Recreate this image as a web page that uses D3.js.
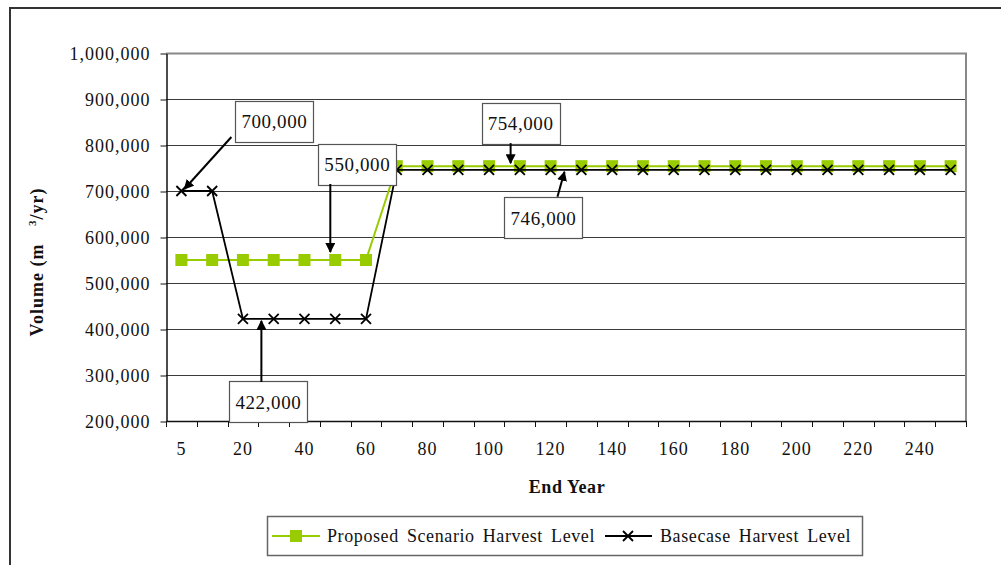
<!DOCTYPE html>
<html>
<head>
<meta charset="utf-8">
<script src="https://cdn.jsdelivr.net/npm/d3@7"></script>
<style>
  html, body { margin: 0; padding: 0; background: #fff; }
  svg { display: block; font-family: "Liberation Serif", "Times New Roman", serif; }
</style>
</head>
<body>
<svg id="chart" width="1001" height="565"></svg>
<script>
// End years on the category axis
const endYears = [5, 10, 20, 30, 40, 50, 60, 70, 80, 90, 100, 110, 120, 130, 140, 150,
                  160, 170, 180, 190, 200, 210, 220, 230, 240, 250];
// Harvest volumes (m3/yr) per end year
const proposedHarvest = [550000, 550000, 550000, 550000, 550000, 550000, 550000,
                         754000, 754000, 754000, 754000, 754000, 754000, 754000, 754000, 754000,
                         754000, 754000, 754000, 754000, 754000, 754000, 754000, 754000, 754000, 754000];
const basecaseHarvest = [700000, 700000, 422000, 422000, 422000, 422000, 422000,
                         746000, 746000, 746000, 746000, 746000, 746000, 746000, 746000, 746000,
                         746000, 746000, 746000, 746000, 746000, 746000, 746000, 746000, 746000, 746000];
// Y axis tick values
const yTicks = [200000, 300000, 400000, 500000, 600000, 700000, 800000, 900000, 1000000];
// Legend entries
const seriesNames = ["Proposed Scenario Harvest Level", "Basecase Harvest Level"];
// Callout labels: series value, category position (fractional index) and placement offsets
const callouts = [
  { label: "700,000", pos: 0,     value: 700000, tip: [3, -2],  start: [50, -54], box: [93, -70] },
  { label: "550,000", pos: 4.84,  value: 550000, tip: [0, -8],  start: [0, -76],  box: [27, -96] },
  { label: "422,000", pos: 2.6,   value: 422000, tip: [0, 2],   start: [0, 63],   box: [7, 83] },
  { label: "754,000", pos: 10.7,  value: 754000, tip: [0, -3],  start: [0, -23],  box: [10, -43] },
  { label: "746,000", pos: 12.45, value: 746000, tip: [0, 2],   start: [-7, 27],  box: [-21, 48] }
];

const svg = d3.select("#chart");
const plot = { left: 166, right: 966, top: 53, bottom: 421 };
const green = "#99CC00";

// Outer chart frame
svg.append("rect")
  .attr("x", 10).attr("y", 8).attr("width", 1010).attr("height", 600)
  .attr("fill", "none").attr("stroke", "#333").attr("stroke-width", 2);

const xBand = d3.scaleBand().domain(endYears).range([plot.left, plot.right]).padding(0);
const x = d3.scalePoint().domain(endYears).range([plot.left, plot.right]).padding(0.5);
const xPos = d3.scaleLinear().domain([0, endYears.length - 1])
  .range([x(endYears[0]), x(endYears[endYears.length - 1])]);
const y = d3.scaleLinear().domain([200000, 1000000]).range([plot.bottom, plot.top]);

// Horizontal gridlines
svg.append("g")
  .selectAll("line")
  .data(yTicks.filter(v => v > 200000 && v < 1000000))
  .join("line")
  .attr("x1", plot.left).attr("x2", plot.right)
  .attr("y1", d => Math.round(y(d)) + 0.5).attr("y2", d => Math.round(y(d)) + 0.5)
  .attr("stroke", "#3a3a3a").attr("stroke-width", 1);

// Plot area top and right edges
svg.append("path")
  .attr("d", `M${plot.left},${plot.top + 0.5}H${plot.right}V${plot.bottom}`)
  .attr("fill", "none").attr("stroke", "#888").attr("stroke-width", 2);

// Y axis
const yAxis = svg.append("g")
  .attr("transform", `translate(${plot.left + 0.5},0.5)`)
  .call(d3.axisLeft(y).tickValues(yTicks).tickFormat(d3.format(",")).tickSize(6).tickSizeOuter(0).tickPadding(10));
yAxis.select(".domain").attr("stroke", "#111").attr("stroke-width", 1.5);
yAxis.selectAll(".tick line").attr("stroke", "#111");
yAxis.selectAll("text")
  .attr("font-family", "Liberation Serif").attr("font-size", 18)
  .attr("letter-spacing", "1px").attr("fill", "#111");

// X axis: ticks on category boundaries, labels on every second category
const xAxis = svg.append("g");
xAxis.append("line")
  .attr("x1", plot.left).attr("x2", plot.right)
  .attr("y1", plot.bottom + 0.5).attr("y2", plot.bottom + 0.5)
  .attr("stroke", "#111").attr("stroke-width", 1.5);
const boundaries = endYears.map(d => xBand(d)).concat([plot.right]);
xAxis.selectAll("line.tick")
  .data(boundaries)
  .join("line")
  .attr("class", "tick")
  .attr("x1", d => Math.round(d) + 0.5).attr("x2", d => Math.round(d) + 0.5)
  .attr("y1", plot.bottom).attr("y2", plot.bottom + 6)
  .attr("stroke", "#111");
xAxis.selectAll("text")
  .data(endYears.filter((d, i) => i % 2 === 0))
  .join("text")
  .attr("x", d => x(d)).attr("y", 455)
  .attr("text-anchor", "middle")
  .attr("font-size", 18).attr("letter-spacing", "1px").attr("fill", "#111")
  .text(d => d);

// Axis titles
svg.append("text")
  .attr("x", 567).attr("y", 493)
  .attr("text-anchor", "middle")
  .attr("font-size", 18).attr("font-weight", "bold").attr("letter-spacing", "0.6px")
  .attr("fill", "#111")
  .text("End Year");
const yTitle = svg.append("text")
  .attr("transform", "translate(43,262) rotate(-90)")
  .attr("text-anchor", "middle")
  .attr("font-size", 18).attr("font-weight", "bold").attr("letter-spacing", "1px")
  .attr("fill", "#111");
yTitle.append("tspan").text("Volume (m ");
yTitle.append("tspan").attr("font-size", 11).attr("dy", -7).attr("dx", 12).text("3");
yTitle.append("tspan").attr("dy", 7).text("/yr)");

// Series lines and markers
const line = d3.line().x((d, i) => x(endYears[i])).y(d => y(d));
svg.append("path")
  .datum(proposedHarvest)
  .attr("d", line)
  .attr("fill", "none").attr("stroke", green).attr("stroke-width", 2);
svg.append("g")
  .selectAll("rect")
  .data(proposedHarvest)
  .join("rect")
  .attr("x", (d, i) => x(endYears[i]) - 6).attr("y", d => y(d) - 6)
  .attr("width", 12).attr("height", 12)
  .attr("fill", green);

svg.append("path")
  .datum(basecaseHarvest)
  .attr("d", line)
  .attr("fill", "none").attr("stroke", "#000").attr("stroke-width", 1.8);
const cross = "M-5,-5L5,5M-5,5L5,-5";
svg.append("g")
  .selectAll("path")
  .data(basecaseHarvest)
  .join("path")
  .attr("transform", (d, i) => `translate(${x(endYears[i])},${y(d)})`)
  .attr("d", cross)
  .attr("stroke", "#000").attr("stroke-width", 1.8).attr("fill", "none");

// Callout boxes with arrows
const defs = svg.append("defs");
defs.append("marker")
  .attr("id", "arrowhead")
  .attr("viewBox", "0 0 10 10")
  .attr("refX", 9).attr("refY", 5)
  .attr("markerWidth", 5).attr("markerHeight", 5)
  .attr("markerUnits", "strokeWidth")
  .attr("orient", "auto")
  .append("path").attr("d", "M0,0L10,5L0,10Z").attr("fill", "#000");

const boxW = 78, boxH = 41;
const cg = svg.append("g").selectAll("g").data(callouts).join("g");
cg.each(function (c) {
  const g = d3.select(this);
  const px = xPos(c.pos), py = y(c.value);
  g.append("rect")
    .attr("x", Math.round(px + c.box[0] - boxW / 2) + 0.5)
    .attr("y", Math.round(py + c.box[1] - boxH / 2) + 0.5)
    .attr("width", boxW).attr("height", boxH)
    .attr("fill", "#fff").attr("stroke", "#555").attr("stroke-width", 1.2);
  g.append("text")
    .attr("x", px + c.box[0]).attr("y", py + c.box[1] + 7)
    .attr("text-anchor", "middle")
    .attr("font-size", 19).attr("letter-spacing", "0.6px").attr("fill", "#111")
    .text(c.label);
  g.append("line")
    .attr("x1", px + c.start[0]).attr("y1", py + c.start[1])
    .attr("x2", px + c.tip[0]).attr("y2", py + c.tip[1])
    .attr("stroke", "#000").attr("stroke-width", 2)
    .attr("marker-end", "url(#arrowhead)");
});

// Legend
const legend = svg.append("g");
legend.append("rect")
  .attr("x", 267.5).attr("y", 516.5).attr("width", 595).attr("height", 39)
  .attr("fill", "#fff").attr("stroke", "#666").attr("stroke-width", 1.5);
const ly = 536;
// first entry
legend.append("line").attr("x1", 272).attr("x2", 320).attr("y1", ly).attr("y2", ly)
  .attr("stroke", green).attr("stroke-width", 2);
legend.append("rect").attr("x", 290).attr("y", ly - 6).attr("width", 12).attr("height", 12)
  .attr("fill", green);
legend.append("text").attr("x", 327).attr("y", ly + 6)
  .attr("font-size", 18).attr("letter-spacing", "0.6px").attr("word-spacing", "3px")
  .attr("fill", "#111").text(seriesNames[0]);
// second entry
legend.append("line").attr("x1", 605).attr("x2", 652).attr("y1", ly).attr("y2", ly)
  .attr("stroke", "#000").attr("stroke-width", 1.8);
legend.append("path").attr("transform", `translate(628,${ly})`).attr("d", cross)
  .attr("stroke", "#000").attr("stroke-width", 1.8);
legend.append("text").attr("x", 660).attr("y", ly + 6)
  .attr("font-size", 18).attr("letter-spacing", "0.6px").attr("word-spacing", "3px")
  .attr("fill", "#111").text(seriesNames[1]);
</script>
</body>
</html>
